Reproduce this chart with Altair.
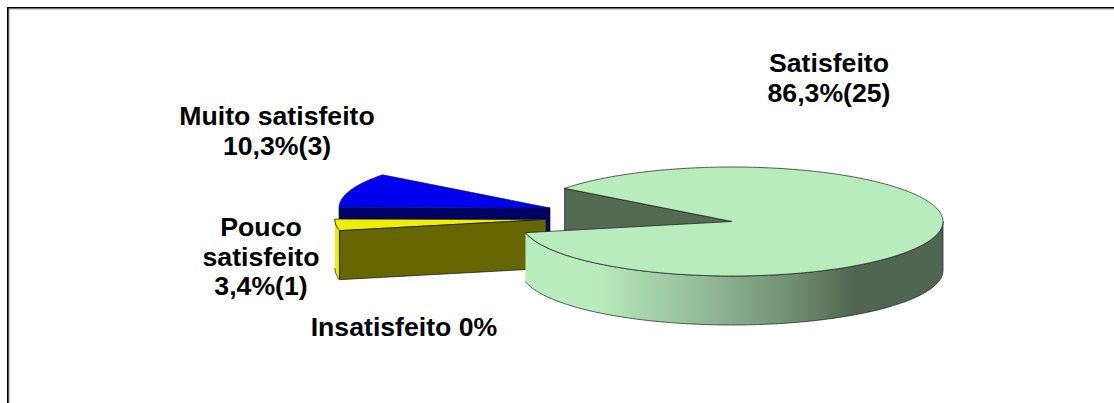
import math
import altair as alt
import pandas as pd

# Survey answers and their printed shares
categories = ["Satisfeito", "Muito satisfeito", "Pouco satisfeito", "Insatisfeito"]
percent = [86.3, 10.3, 3.4, 0.0]
counts = [25, 3, 1, 0]

# Slice colours: top face, cut face
top_colors = ["#B9ECBC", "#0000EE", "#EEEE00"]
wall_colors = ["#536B53", "#000066", "#666600"]
EDGE = "#1a1a1a"

# Pie geometry in plot units (1 unit = 1 px)
RX, RY, DEPTH = 211.0, 54.5, 49.0
START_DEG = 142.5  # where the big slice begins, measured anticlockwise from east
CENTERS = {"Satisfeito": (732.0, 221.5),
           "Muito satisfeito": (550.0, 208.0),
           "Pouco satisfeito": (546.0, 219.5)}

W, H = 1114, 403
X_SCALE = alt.Scale(domain=[0, W], nice=False, zero=False)
Y_SCALE = alt.Scale(domain=[H, 0], nice=False, zero=False)


def point(center, deg, drop=0.0):
    t = math.radians(deg)
    return (center[0] + RX * math.cos(t), center[1] - RY * math.sin(t) + drop)


def arc(center, a0, a1, drop=0.0):
    n = max(2, int(abs(a1 - a0)) + 1)
    return [point(center, a0 + (a1 - a0) * i / (n - 1), drop) for i in range(n)]


def shape(pts, fill, stroke=EDGE, width=0.7):
    df = pd.DataFrame(pts, columns=["x", "y"])
    df["i"] = range(len(df))
    return alt.Chart(df).mark_line(
        fill=fill, stroke=stroke, strokeWidth=width, strokeJoin="round", clip=False
    ).encode(
        x=alt.X("x:Q", scale=X_SCALE, axis=None),
        y=alt.Y("y:Q", scale=Y_SCALE, axis=None),
        order="i:Q",
    )


# Slices run clockwise from START_DEG, each sweep taken from its percentage
sweeps = {c: p * 3.6 for c, p in zip(categories, percent)}
sat_a0 = START_DEG
sat_a1 = sat_a0 - sweeps["Satisfeito"]          # ends near -168 deg
muito_a0 = START_DEG
muito_a1 = muito_a0 + sweeps["Muito satisfeito"]
pouco_a0 = muito_a1
pouco_a1 = pouco_a0 + sweeps["Pouco satisfeito"]

c_s, c_m, c_p = (CENTERS[k] for k in categories[:3])

layers = []

# Muito satisfeito: cut face behind, then top face
m0 = point(c_m, muito_a1)
layers.append(shape([c_m, m0, (m0[0], m0[1] + DEPTH), (c_m[0], c_m[1] + DEPTH), c_m], wall_colors[1]))
layers.append(shape([c_m] + arc(c_m, muito_a0, muito_a1) + [c_m], top_colors[1], stroke="#10105a"))

# Pouco satisfeito: rim, top face, front cut face
layers.append(shape(arc(c_p, pouco_a0, pouco_a1) + arc(c_p, pouco_a1, pouco_a0, DEPTH), top_colors[2]))
layers.append(shape([c_p] + arc(c_p, pouco_a0, pouco_a1) + [c_p], top_colors[2]))
p1 = point(c_p, pouco_a1)
layers.append(shape([c_p, p1, (p1[0], p1[1] + DEPTH), (c_p[0], c_p[1] + DEPTH), c_p], wall_colors[2]))

# Satisfeito: inner cut face seen through the gap
s0 = point(c_s, sat_a0)
layers.append(shape([c_s, s0, (s0[0], s0[1] + DEPTH), (c_s[0], c_s[1] + DEPTH), c_s], wall_colors[0]))

# Satisfeito: shaded rim along the front half
rim_fill = alt.Gradient(
    gradient="linear", x1=0, x2=1, y1=0, y2=0,
    stops=[
        alt.GradientStop(offset=0.0, color="#B9ECBC"),
        alt.GradientStop(offset=0.17, color="#B9ECBC"),
        alt.GradientStop(offset=0.30, color="#A5D2A8"),
        alt.GradientStop(offset=0.48, color="#8BB08E"),
        alt.GradientStop(offset=0.64, color="#6F8E71"),
        alt.GradientStop(offset=0.79, color="#4F6650"),
        alt.GradientStop(offset=1.0, color="#4F6650"),
    ],
)
layers.append(shape(arc(c_s, sat_a1, 0.0) + arc(c_s, 0.0, sat_a1, DEPTH), rim_fill))

# Satisfeito: top face
layers.append(shape([c_s] + arc(c_s, sat_a0, sat_a1) + [c_s], top_colors[0]))

# Data labels, one row per printed line
label_lines = [
    [categories[0], f"{percent[0]:.1f}%({counts[0]})".replace(".", ",")],
    [categories[1], f"{percent[1]:.1f}%({counts[1]})".replace(".", ",")],
    ["Pouco", "satisfeito", f"{percent[2]:.1f}%({counts[2]})".replace(".", ",")],
    [f"{categories[3]} {percent[3]:.0f}%"],
]
label_anchor = [(829, 64), (277, 117), (261, 228), (404, 328)]
LINE_GAP = 29.5
rows = []
for lines, (lx, ly) in zip(label_lines, label_anchor):
    for k, txt in enumerate(lines):
        rows.append({"x": lx, "y": ly + k * LINE_GAP, "t": txt})

labels = alt.Chart(pd.DataFrame(rows)).mark_text(
    font="Liberation Sans", fontWeight="bold", fontSize=26.67, color="#000000",
    align="center", baseline="middle",
).encode(
    x=alt.X("x:Q", scale=X_SCALE, axis=None),
    y=alt.Y("y:Q", scale=Y_SCALE, axis=None),
    text="t:N",
)


def frame_line(offset, color, width):
    # Top and left edges of the chart area
    df = pd.DataFrame({"x": [offset, offset, W], "y": [H, offset, offset], "i": [0, 1, 2]})
    return alt.Chart(df).mark_line(color=color, strokeWidth=width, clip=False).encode(
        x=alt.X("x:Q", scale=X_SCALE, axis=None),
        y=alt.Y("y:Q", scale=Y_SCALE, axis=None),
        order="i:Q",
    )


chart = alt.layer(frame_line(9, "#B0B0B0", 1.2), frame_line(7.8, "#000000", 1.6), *layers, labels).properties(
    width=W, height=H, padding=0, background="#FFFFFF",
    autosize=alt.AutoSizeParams(type="none"),
).configure_view(stroke=None)

chart.save("out.html", embed_options={"renderer": "svg", "actions": False})
